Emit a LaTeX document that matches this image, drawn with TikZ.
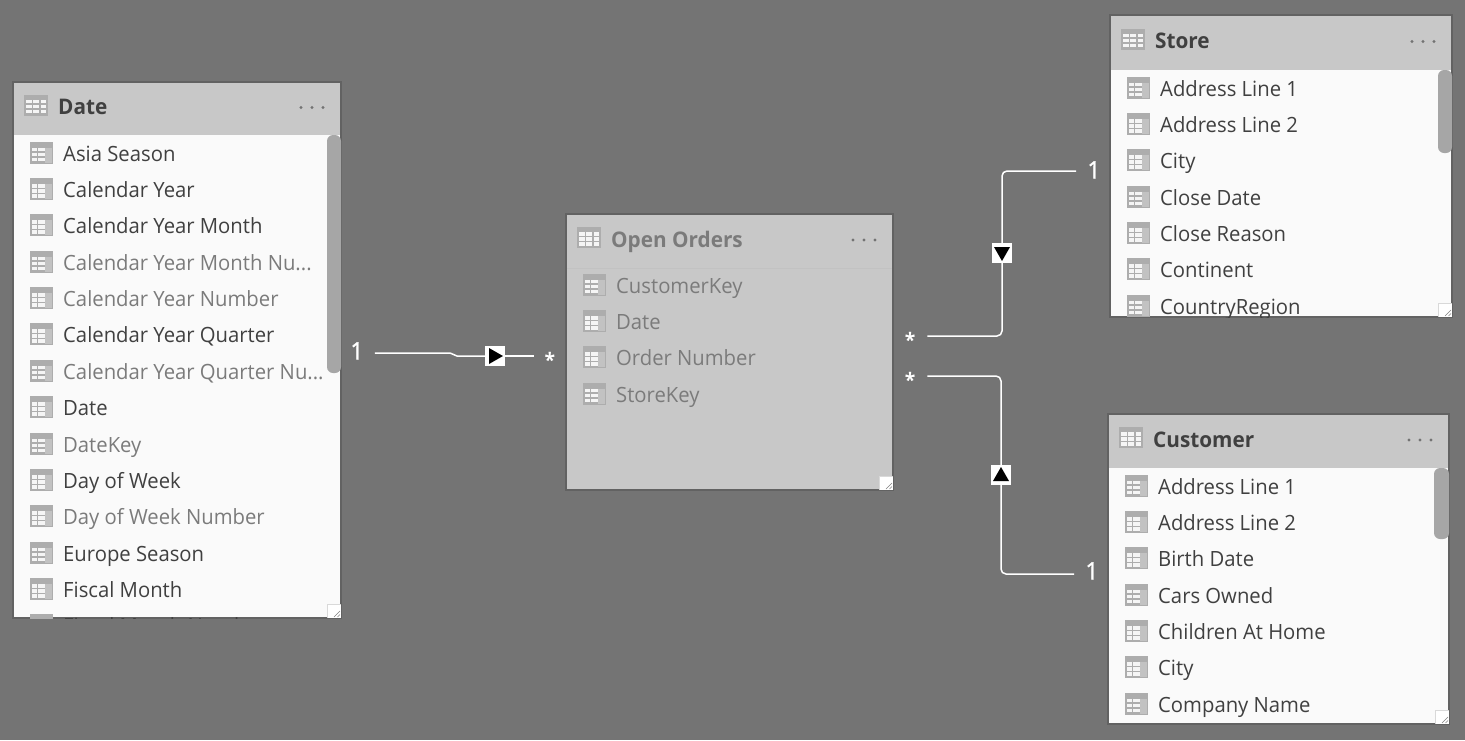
\documentclass[tikz,border=0pt]{standalone}
\usepackage{fontspec}
\setmainfont[FakeStretch=0.965]{Open Sans}
\definecolor{canvas}{HTML}{747474}
\definecolor{headgray}{HTML}{C8C8C8}
\definecolor{bodywhite}{HTML}{FAFAFA}
\definecolor{edgegray}{HTML}{626262}
\definecolor{fieldDark}{HTML}{404040}
\definecolor{fieldDim}{HTML}{7B7B7B}
\definecolor{thumbgray}{HTML}{A6A6A6}
\newcommand{\trail}{...}
\tikzset{
    tablebox/.style={draw=edgegray, line width=1.5pt, inner sep=0, outer sep=0},
    fieldtext/.style={anchor=base west, inner sep=0, font=\fontsize{21}{25}\selectfont},
    titletext/.style={anchor=base west, inner sep=0, font=\fontsize{21.5}{26}\selectfont\bfseries},
    relline/.style={draw=white, line width=1.5pt},
    arrowbox/.style={fill=white, minimum size=20pt, inner sep=0},
    cardlabel/.style={text=white, inner ysep=0, text height=17pt, font=\fontsize{24}{26}\selectfont\addfontfeature{FakeBold=1.2}},
    starlabel/.style={text=white, inner ysep=0, text height=22pt, text depth=0pt, font=\fontsize{20}{26}\selectfont\bfseries},
    fieldicon/.pic={
        \fill[black!32] (0,0) rectangle (23,22);
        \fill[black!24] (15,6) rectangle (22,21);
        \foreach \cy in {6,11,16} {
            \fill[white!96!black] (1.7,\cy) rectangle (7.4,\cy+3.7);
            \fill[white!96!black] (8.3,\cy) rectangle (14.7,\cy+3.7);
        }
    },
    headicon/.pic={
        \fill[black!32] (0,0) rectangle (24,21);
        \foreach \cy in {5,10,15}
            \foreach \cx in {2.3,9.3,16.7}
                \fill[white!96!black] (\cx,\cy) rectangle (\cx+5.5,\cy+3.8);
    },
    gripmark/.pic={
        \fill[white] (-14,-14) rectangle (0,0);
        \draw[black!15, line width=0.7pt] (-14,0) -- (-14,-14) -- (0,-14);
        \draw[black!50, line width=0.6pt] (-7,-1) -- (-1,-7) (-3.5,-1) -- (-1,-3.5);
    }
}
% #1 name, #2-#5 box, #6 bottom of header, #7 title, #8 body, #9 title colour
\newcommand{\tablecard}[9]{
    \pgfmathsetmacro{\hc}{(#3+#6)/2}
    \node[tablebox, fill=#8, minimum width={#4-#2}, minimum height={#5-#3}] (#1) at ({(#2+#4)/2},{(#3+#5)/2}) {};
    \fill[headgray] (#2,#3) rectangle (#4,#6);
    \pic at (#2+11,\hc-14) {headicon};
    \node[titletext, text=#9] (#1Title) at (#2+45,\hc+6) {#7};
    \foreach \dx in {40,29,18}
        \fill[black!55] (#4-\dx,\hc-1) circle (1.7);
    \draw[edgegray, line width=1.5pt] (#2,#3) rectangle (#4,#5);
}
% #1 name, #2 x of icons, #3 y of first row, #4 rows
\newcommand{\fieldrows}[4]{
    \begin{scope}
    \clip (#1.south west) rectangle (#1.north east);
    \foreach \n/\fieldName/\fieldCol in {#4} {
        \pgfmathsetmacro{\rowY}{#3+36.38*\n}
        \pic at (#2,\rowY-11.5) {fieldicon};
        \node[fieldtext, text=\fieldCol] (#1Field\n) at (#2+33,\rowY+8) {\fieldName};
    }
    \end{scope}
}

\begin{document}
\begin{tikzpicture}[x=1pt, y=-1pt]
    \fill[canvas] (0,0) rectangle (1465,740);
    \useasboundingbox (0,0) rectangle (1465,740);

    % date table
    \tablecard{date}{13}{82}{341}{618}{135}{Date}{bodywhite}{fieldDark}
    \fieldrows{date}{30}{153}{0/Asia Season/fieldDark, 1/Calendar Year/fieldDark,
        2/Calendar Year Month/fieldDark, 3/Calendar Year Month Nu\trail/fieldDim,
        4/Calendar Year Number/fieldDim, 5/Calendar Year Quarter/fieldDark,
        6/Calendar Year Quarter Nu\trail/fieldDim, 7/Date/fieldDark, 8/DateKey/fieldDim,
        9/Day of Week/fieldDark, 10/Day of Week Number/fieldDim,
        11/Europe Season/fieldDark, 12/Fiscal Month/fieldDark,
        13/Fiscal Month Number/fieldDark}
    \fill[thumbgray, rounded corners=6] (327,135) rectangle (341,373);
    \pic at (date.south east) {gripmark};

    % open orders table
    \tablecard{orders}{566}{214}{893}{490}{268}{Open Orders}{headgray}{fieldDim}
    \draw[black!24] (567,268) -- (892,268);
    \fieldrows{orders}{583}{285}{0/CustomerKey/fieldDim, 1/Date/fieldDim,
        2/Order Number/fieldDim, 3/StoreKey/fieldDim}
    \pic at (orders.south east) {gripmark};

    % store table
    \tablecard{store}{1110}{15}{1452}{317}{70}{Store}{bodywhite}{fieldDark}
    \fieldrows{store}{1127}{88}{0/Address Line 1/fieldDark, 1/Address Line 2/fieldDark,
        2/City/fieldDark, 3/Close Date/fieldDark, 4/Close Reason/fieldDark,
        5/Continent/fieldDark, 6/CountryRegion/fieldDark}
    \fill[thumbgray, rounded corners=6] (1438,70) rectangle (1452,153);
    \pic at (store.south east) {gripmark};

    % customer table
    \tablecard{customer}{1108}{414}{1449}{724}{468}{Customer}{bodywhite}{fieldDark}
    \fieldrows{customer}{1125}{486}{0/Address Line 1/fieldDark, 1/Address Line 2/fieldDark,
        2/Birth Date/fieldDark, 3/Cars Owned/fieldDark, 4/Children At Home/fieldDark,
        5/City/fieldDark, 6/Company Name/fieldDark}
    \fill[thumbgray, rounded corners=6] (1434,468) rectangle (1449,539);
    \pic at (customer.south east) {gripmark};

    % relationships
    \node[cardlabel, text depth=4pt, inner xsep=11pt] (dateOne) at (357,353) {1};
    \node[starlabel, inner xsep=11pt] (dateMany) at (550,356) {*};
    \node[arrowbox] (dateArrow) at (495,356) {};
    \draw[relline] (dateOne.east) -- (450,353) -- (457,356) -- (dateArrow);
    \draw[relline] (dateArrow) -- (dateMany.west);
    \fill[black] ([shift={(-6,-8)}]dateArrow.center) -- ++(0,16) -- ++(14,-8) -- cycle;

    \node[starlabel, inner xsep=12pt] (storeMany) at (910,336) {*};
    \node[cardlabel, text depth=2pt, inner xsep=11pt] (storeOne) at (1094,171) {1};
    \node[arrowbox] (storeArrow) at (1002,253) {};
    \draw[relline, rounded corners=5] (storeMany.east) -| (storeArrow);
    \draw[relline, rounded corners=5] (storeArrow) |- (storeOne.west);
    \fill[black] ([shift={(-8,-6)}]storeArrow.center) -- ++(16,0) -- ++(-8,14) -- cycle;

    \node[starlabel, inner xsep=12pt] (customerMany) at (910,376) {*};
    \node[cardlabel, text depth=6pt, inner xsep=11pt] (customerOne) at (1092,574) {1};
    \node[arrowbox] (customerArrow) at (1001,475) {};
    \draw[relline, rounded corners=5] (customerMany.east) -| (customerArrow);
    \draw[relline, rounded corners=5] (customerArrow) |- (customerOne.west);
    \fill[black] ([shift={(-8,6)}]customerArrow.center) -- ++(16,0) -- ++(-8,-14) -- cycle;
\end{tikzpicture}
\end{document}
